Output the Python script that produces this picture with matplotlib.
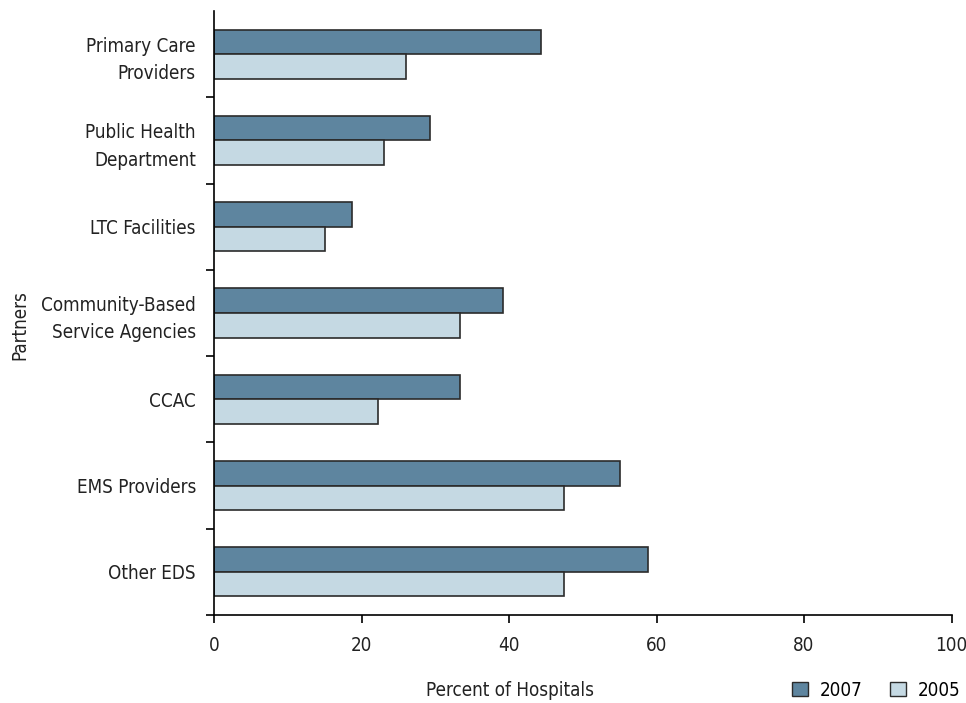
import numpy as np
import matplotlib.pyplot as plt
from matplotlib.patches import Patch

plt.rcParams['font.family'] = ['Liberation Sans Narrow', 'DejaVu Sans']
plt.rcParams['font.stretch'] = 'condensed'

# data (percent of hospitals)
partners = ["Primary Care\nProviders", "Public Health\nDepartment", "LTC Facilities",
            "Community-Based\nService Agencies", "CCAC", "EMS Providers", "Other EDS"]
v2007 = [44.3, 29.3, 18.7, 39.2, 33.3, 55.0, 58.9]
v2005 = [26.0, 23.1, 15.0, 33.3, 22.3, 47.4, 47.4]
xticks = [0, 20, 40, 60, 80, 100]

DARK = "#5e859f"
LIGHT = "#c5d9e3"
EDGE = "#2b2b2b"
H = 0.285

fig = plt.figure(figsize=(9.66, 7.03), dpi=100)
ax = fig.add_axes([214/966, 1 - 615/703, 737.5/966, (615 - 11)/703])

y = np.arange(len(partners))
ax.barh(y - H/2, v2007, height=H, color=DARK, edgecolor=EDGE, linewidth=1.2)
ax.barh(y + H/2, v2005, height=H, color=LIGHT, edgecolor=EDGE, linewidth=1.2)

ax.set_xlim(0, 100)
ax.set_ylim(len(partners) - 0.5, -0.5)
ax.set_xticks(xticks)
ax.set_yticks(y)
ax.set_yticklabels(partners, linespacing=1.55)
ax.set_yticks(np.arange(len(partners)) + 0.5, minor=True)
ax.tick_params(axis='y', which='major', length=0, pad=13, labelsize=13.5, colors='#222222')
ax.tick_params(axis='y', which='minor', length=6, width=1.2, direction='out')
ax.tick_params(axis='x', length=6, width=1.2, pad=9, labelsize=13.5, colors='#222222')
ax.tick_params(axis='both', which='both', color='black')

for s in ['top', 'right']:
    ax.spines[s].set_visible(False)
for s in ['left', 'bottom']:
    ax.spines[s].set_linewidth(1.2)

fig.text(20/966, 1 - 325/703, "Partners", rotation=90, ha='center', va='center',
         fontsize=13.5, color='#222222')
fig.text(510/966, 1 - 690/703, "Percent of Hospitals", ha='center', va='center',
         fontsize=13.5, color='#222222')

handles = [Patch(facecolor=DARK, edgecolor=EDGE, label="2007"),
           Patch(facecolor=LIGHT, edgecolor=EDGE, label="2005")]
fig.legend(handles=handles, ncol=2, frameon=False, loc='center right',
           bbox_to_anchor=(0.998, 1 - 690/703), fontsize=13.5, borderpad=0.2,
           borderaxespad=0, handlelength=0.85, handleheight=0.85,
           columnspacing=1.5, handletextpad=0.6)

fig.savefig("out.png", dpi=100)
